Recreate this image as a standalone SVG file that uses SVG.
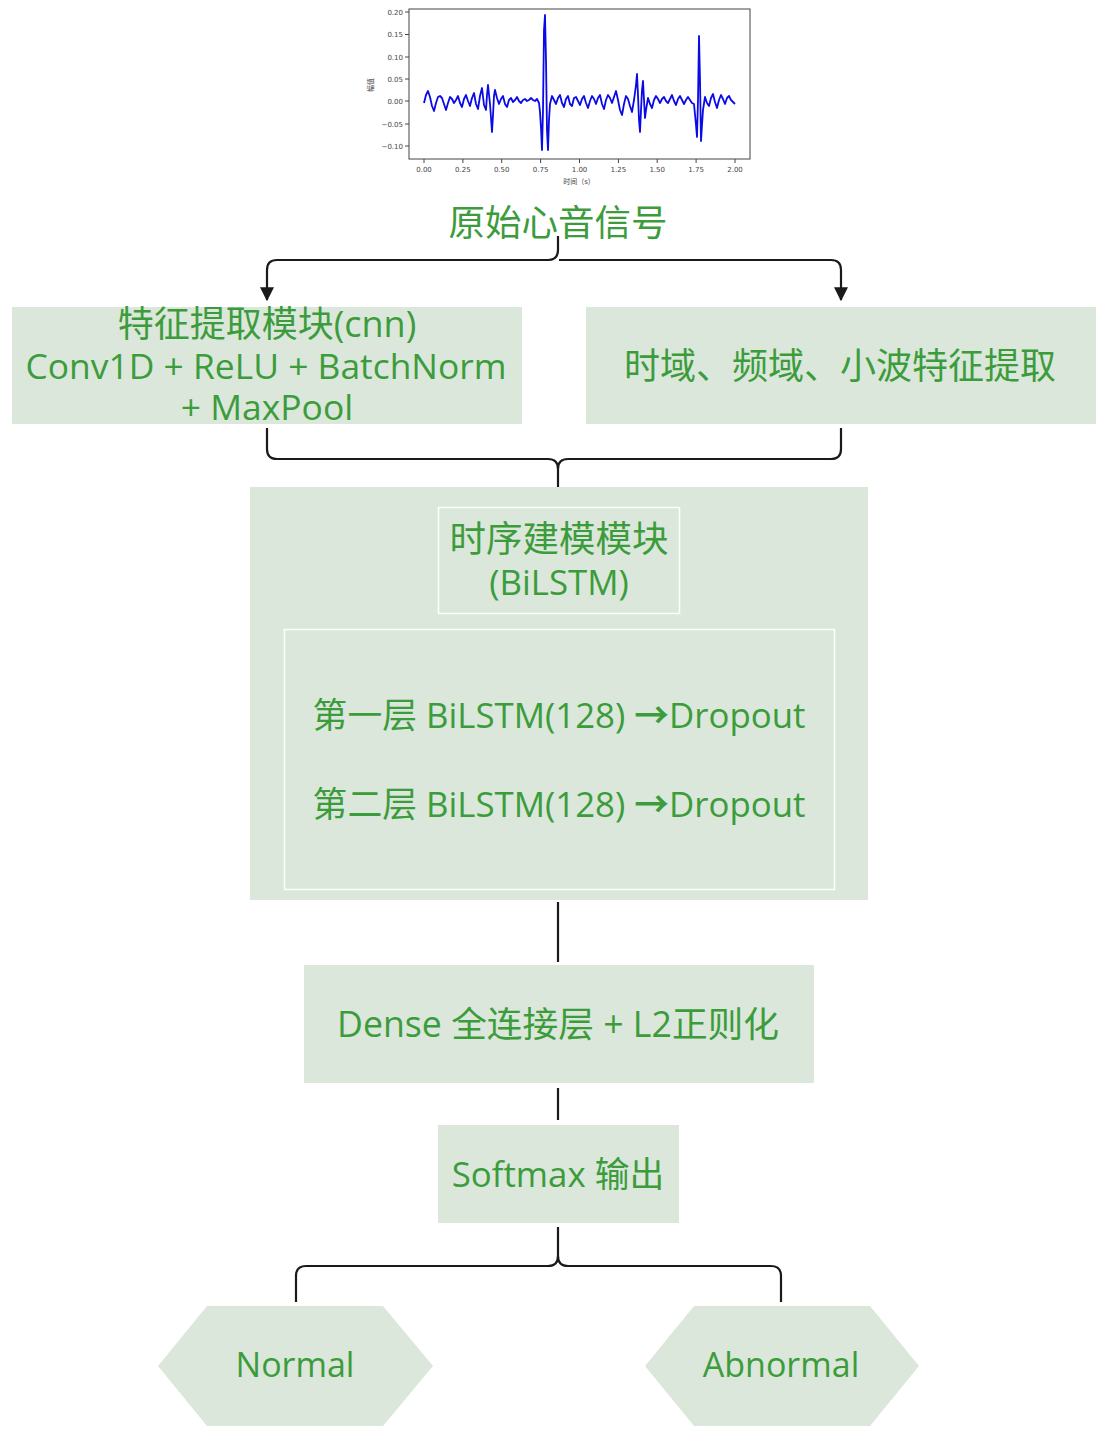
<svg xmlns="http://www.w3.org/2000/svg" width="1104" height="1440" viewBox="0 0 1104 1440">
<style>
.box{fill:#dbe7da;}
.inner{fill:#dbe7da;stroke:#ffffff;stroke-width:1.5;}
.t{font-family:"Open Sans","Noto Sans CJK SC",sans-serif;fill:#3c9c3c;text-anchor:middle;dominant-baseline:central;}
.conn{fill:none;stroke:#1a1a1a;stroke-width:2.2;stroke-linecap:butt;stroke-linejoin:round;}
.tick{font-family:"DejaVu Sans","Noto Sans CJK SC",sans-serif;font-size:7px;fill:#444;}
.ax{fill:none;stroke:#444;stroke-width:1;}
</style>
<defs>
<marker id="arrowhead" viewBox="0 0 12 12" refX="11" refY="6" markerWidth="14" markerHeight="14" markerUnits="userSpaceOnUse" orient="auto">
<path d="M0,0 L12,6 L0,12 z" fill="#1a1a1a"/>
</marker>
</defs>
<rect x="0" y="0" width="1104" height="1440" fill="#ffffff"/>

<g id="signal-chart">
<rect x="409" y="9" width="341" height="150" fill="#ffffff" stroke="#444" stroke-width="1"/>
<g class="ax">
<path d="M405,12 H409 M405,34.5 H409 M405,57 H409 M405,79 H409 M405,101 H409 M405,124 H409 M405,146 H409"/>
<path d="M424,159 V163 M462.9,159 V163 M501.7,159 V163 M540.6,159 V163 M579.5,159 V163 M618.4,159 V163 M657.2,159 V163 M696.1,159 V163 M735,159 V163"/>
</g>
<g class="tick" text-anchor="end">
<text x="403" y="14.5">0.20</text>
<text x="403" y="37">0.15</text>
<text x="403" y="59.5">0.10</text>
<text x="403" y="81.5">0.05</text>
<text x="403" y="103.5">0.00</text>
<text x="403" y="126.5">−0.05</text>
<text x="403" y="148.5">−0.10</text>
</g>
<g class="tick" text-anchor="middle">
<text x="424" y="172">0.00</text>
<text x="462.9" y="172">0.25</text>
<text x="501.7" y="172">0.50</text>
<text x="540.6" y="172">0.75</text>
<text x="579.5" y="172">1.00</text>
<text x="618.4" y="172">1.25</text>
<text x="657.2" y="172">1.50</text>
<text x="696.1" y="172">1.75</text>
<text x="735" y="172">2.00</text>
<text x="579" y="184">时间（s）</text>
<text x="0" y="0" transform="translate(373,85) rotate(-90)">幅值</text>
</g>
<polyline fill="none" stroke="#0a0ae6" stroke-width="1.8" stroke-linejoin="round" points="424,103 426,95 428,91 430,97 432,106 434,111 436,103 438,97 440,96 442,98 444,104 446,110 448,103 450,97 452,99 454,103 456,100 458,96 460,103 462,107 464,99 466,95 468,101 470,106 472,98 474,93 476,104 478,109 480,96 482,88 484,105 486,110 487,95 488,85 490,104 491,118 492,132 493,115 494,96 495,90 497,98 499,104 501,99 503,96 505,104 507,107 509,100 511,98 513,102 515,100 517,97 519,101 521,103 523,100 525,99 527,101 529,100 531,98 533,100 535,101 537,99 539,103 540,112 541,128 542,150 543,110 544,30 545,15 546,60 547,130 548,150 549,120 550,104 552,96 554,100 556,104 558,98 560,95 562,103 564,107 566,99 568,96 570,104 572,106 574,98 576,97 578,101 580,105 582,99 584,96 586,103 588,108 590,101 592,96 594,99 596,104 598,98 600,95 602,104 604,109 606,100 608,95 610,98 612,103 614,97 616,91 618,100 620,110 622,115 624,104 626,96 628,99 630,106 632,112 634,100 636,85 637,74 638,95 639,120 640,132 641,110 642,90 643,81 644,100 645,118 646,110 648,98 650,104 652,108 654,100 656,96 658,99 660,103 662,99 664,97 666,101 668,103 670,99 672,95 674,101 676,105 678,99 680,96 682,100 684,104 686,100 688,97 690,100 692,103 694,104 696,125 697,137 698,100 699,36 700,80 701,141 702,125 703,110 705,97 707,103 709,106 711,98 713,94 715,102 717,108 719,100 721,95 723,99 725,104 727,98 729,96 731,100 733,102 735,104"/>
</g>

<g id="title">
<text class="t" x="558" y="222" font-size="36.5">原始心音信号</text>
</g>

<g id="connectors">
<path class="conn" d="M558,236 V250 Q558,260 548,260 H277 Q267,260 267,270 V300" marker-end="url(#arrowhead)"/>
<path class="conn" d="M559,260 H831 Q841,260 841,270 V300" marker-end="url(#arrowhead)"/>
<path class="conn" d="M267,428 V449 Q267,459 277,459 H548 Q558,459 558,469 V487"/>
<path class="conn" d="M841,428 V449 Q841,459 831,459 H568 Q558,459 558,469"/>
<path class="conn" d="M558,902 V962"/>
<path class="conn" d="M558,1088 V1120"/>
<path class="conn" d="M558,1227 V1256 Q558,1266 548,1266 H306 Q296,1266 296,1276 V1302"/>
<path class="conn" d="M558,1256 Q558,1266 568,1266 H771 Q781,1266 781,1276 V1302"/>
</g>

<g id="cnn-module">
<rect class="box" x="12" y="307" width="510" height="117"/>
<text class="t" x="267" y="323" font-size="36">特征提取模块(cnn)</text>
<text class="t" x="266" y="365" font-size="35.4">Conv1D + ReLU + BatchNorm</text>
<text class="t" x="267" y="406" font-size="35.4">+ MaxPool</text>
</g>

<g id="handcrafted-features">
<rect class="box" x="586" y="307" width="510" height="117"/>
<text class="t" x="840" y="365" font-size="36">时域、频域、小波特征提取</text>
</g>

<g id="bilstm-module">
<rect class="box" x="250" y="487" width="618" height="413"/>
<rect class="inner" x="438.5" y="507.5" width="241" height="106"/>
<text class="t" x="559" y="538" font-size="36.5">时序建模模块</text>
<text class="t" x="559" y="581" font-size="34.8">(BiLSTM)</text>
<rect class="inner" x="284.5" y="629.5" width="550" height="260"/>
<text class="t" x="559" y="714" font-size="34.8">第一层 BiLSTM(128) <tspan font-weight="bold">→</tspan>Dropout</text>
<text class="t" x="559" y="803" font-size="34.8">第二层 BiLSTM(128) <tspan font-weight="bold">→</tspan>Dropout</text>
</g>

<g id="dense">
<rect class="box" x="304" y="965" width="510" height="118"/>
<text class="t" x="558" y="1023" font-size="35.7">Dense 全连接层 + L2正则化</text>
</g>

<g id="softmax">
<rect class="box" x="438" y="1125" width="241" height="98"/>
<text class="t" x="558" y="1173" font-size="34.8">Softmax 输出</text>
</g>

<g id="normal">
<polygon class="box" points="158,1366 207,1306 383,1306 433,1366 383,1426 207,1426"/>
<text class="t" x="295" y="1364" font-size="34">Normal</text>
</g>

<g id="abnormal">
<polygon class="box" points="645,1366 694,1306 870,1306 919,1366 870,1426 694,1426"/>
<text class="t" x="781" y="1364" font-size="34">Abnormal</text>
</g>
</svg>
